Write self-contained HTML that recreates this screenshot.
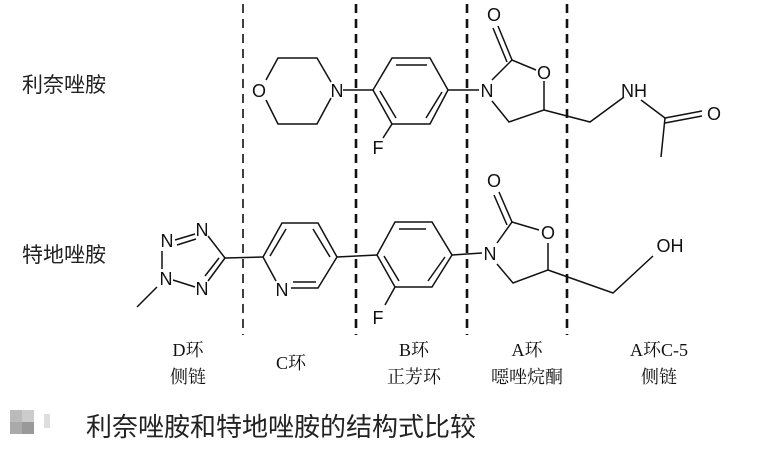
<!DOCTYPE html>
<html><head><meta charset="utf-8"><style>
body{margin:0;background:#fff;}
svg{display:block;}
.a{font-family:"Liberation Sans","Noto Sans CJK SC",sans-serif;font-size:18px;fill:#111;}
.s{font-family:"Liberation Serif","Noto Serif CJK SC",serif;font-size:18px;fill:#111;}
.c{font-family:"Liberation Sans","Noto Sans CJK SC",sans-serif;font-size:21px;fill:#222;}
</style></head><body>
<svg width="771" height="457" viewBox="0 0 771 457" xmlns="http://www.w3.org/2000/svg">
<rect width="771" height="457" fill="#fff"/>
<g stroke="#111" fill="none">
<line x1="243" y1="4" x2="243" y2="335" stroke-width="1.6" stroke-dasharray="9,6"/>
<line x1="356" y1="4" x2="356" y2="335" stroke-width="2.6" stroke-dasharray="9,6"/>
<line x1="467" y1="4" x2="467" y2="335" stroke-width="2.6" stroke-dasharray="9,6"/>
<line x1="567" y1="4" x2="567" y2="335" stroke-width="2.6" stroke-dasharray="9,6"/>
</g>
<g stroke="#111" stroke-width="1.5" fill="none">
<polyline points="266,80 278,58 317,58 331,82"/>
<polyline points="331,98 317,124 278,124 266,100"/>
<line x1="343" y1="90" x2="373" y2="90"/>
<polygon points="373,90 392,58 430,58 448,90 430,124 392,124"/>
<line x1="396" y1="65" x2="427" y2="65"/>
<line x1="380" y1="91" x2="396" y2="118"/>
<line x1="442" y1="92" x2="426" y2="118"/>
<line x1="392" y1="124" x2="383" y2="138"/>
<line x1="448" y1="90" x2="479" y2="90"/>
<polyline points="492,80 512,60 536,70"/>
<polyline points="544,81 544,110 509,122 492,101"/>
<line x1="512" y1="60" x2="498" y2="26"/>
<line x1="507" y1="62" x2="493" y2="28"/>
<polyline points="544,110 590,122 624,97"/>
<line x1="641" y1="100" x2="665" y2="118"/>
<line x1="665" y1="118" x2="702" y2="111"/>
<line x1="665" y1="123" x2="702" y2="116"/>
<line x1="665" y1="118" x2="661" y2="157"/>
<line x1="162" y1="251" x2="162" y2="269"/>
<line x1="175" y1="240" x2="195" y2="234"/>
<line x1="177" y1="245" x2="196" y2="239"/>
<line x1="208" y1="236" x2="225" y2="258"/>
<line x1="225" y1="258" x2="208" y2="281"/>
<line x1="219" y1="258" x2="205" y2="276"/>
<line x1="173" y1="280" x2="195" y2="287"/>
<line x1="157" y1="287" x2="137" y2="307"/>
<line x1="225" y1="258" x2="263" y2="257"/>
<polyline points="276,281 263,257 282,223 318,223 337,257 318,288 291,288"/>
<line x1="270" y1="256" x2="286" y2="229"/>
<line x1="313" y1="229" x2="330" y2="257"/>
<line x1="293" y1="282" x2="316" y2="282"/>
<line x1="337" y1="257" x2="377" y2="255"/>
<polygon points="377,255 395,222 432,222 452,255 432,287 395,287"/>
<line x1="399" y1="229" x2="426" y2="229"/>
<line x1="384" y1="256" x2="399" y2="281"/>
<line x1="445" y1="257" x2="428" y2="281"/>
<line x1="395" y1="287" x2="385" y2="305"/>
<line x1="452" y1="255" x2="482" y2="253"/>
<polyline points="497,243 512,222 539,230"/>
<polyline points="548,243 548,270 513,283 497,264"/>
<line x1="512" y1="222" x2="499" y2="192"/>
<line x1="507" y1="225" x2="494" y2="195"/>
<polyline points="548,270 613,293 653,256"/>
</g>
<g class="a" text-anchor="middle">
<text x="259" y="97">O</text>
<text x="337" y="97">N</text>
<text x="378" y="154">F</text>
<text x="487" y="97">N</text>
<text x="544" y="79">O</text>
<text x="494" y="21">O</text>
<text x="634" y="97">NH</text>
<text x="714" y="120">O</text>
<text x="167" y="247">N</text>
<text x="202" y="236">N</text>
<text x="202" y="295">N</text>
<text x="166" y="285">N</text>
<text x="282" y="296">N</text>
<text x="378" y="324">F</text>
<text x="490" y="260">N</text>
<text x="548" y="239">O</text>
<text x="494" y="187">O</text>
<text x="670" y="252">OH</text>
</g>
<text class="c" x="22" y="92">利奈唑胺</text>
<text class="c" x="22" y="262">特地唑胺</text>
<g class="s" text-anchor="middle">
<text x="188" y="356">D环</text>
<text x="188" y="383">侧链</text>
<text x="291" y="369">C环</text>
<text x="414" y="356">B环</text>
<text x="414" y="383">正芳环</text>
<text x="527" y="356">A环</text>
<text x="527" y="383">噁唑烷酮</text>
<text x="659" y="356">A环C-5</text>
<text x="659" y="383">侧链</text>
</g>
<rect x="10" y="410" width="12" height="12" fill="#bbb"/>
<rect x="22" y="410" width="12" height="12" fill="#ccc"/>
<rect x="10" y="422" width="12" height="12" fill="#aaa"/>
<rect x="22" y="422" width="12" height="12" fill="#999"/>
<rect x="44" y="414" width="6" height="14" fill="#ddd"/>
<text x="86" y="436" style="font-family:'Liberation Sans','Noto Sans CJK SC',sans-serif;font-size:26px;fill:#222;">利奈唑胺和特地唑胺的结构式比较</text>
</svg>
</body></html>
